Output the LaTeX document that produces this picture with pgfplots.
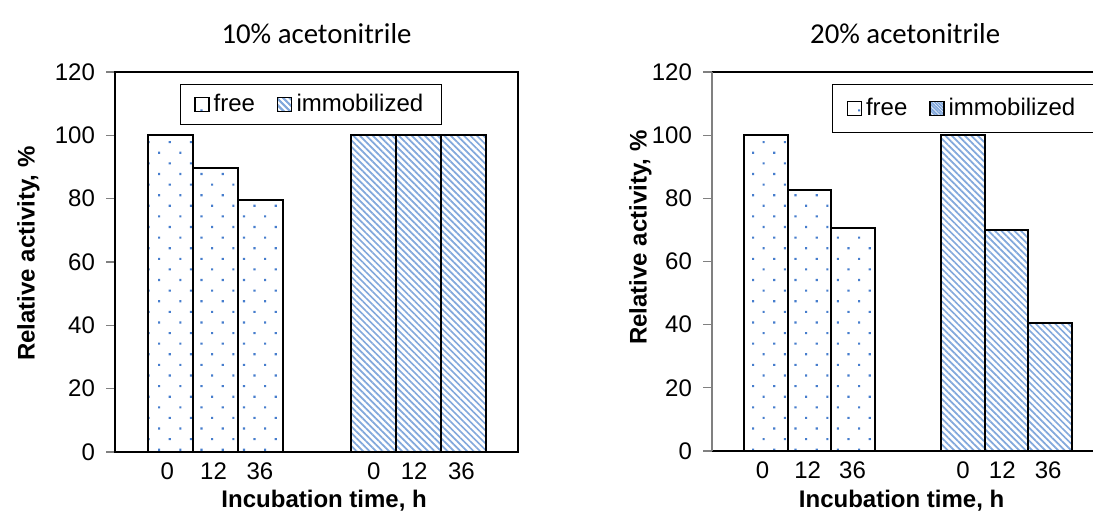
\documentclass[border=0pt]{standalone}
\usepackage{fontspec}
\setmainfont{Liberation Sans}
\newfontfamily\calibri{Carlito}
\usepackage{pgfplots}
\pgfplotsset{compat=1.18}
\usetikzlibrary{patterns.meta}
\definecolor{dotblue}{RGB}{70,125,205}
\definecolor{hatchblue}{RGB}{130,168,220}

\pgfplotsset{
  every axis title/.style={font=\calibri\fontsize{14.4}{17}\selectfont, anchor=center},
  panel/.style={
    scale only axis,
    xmin=0, xmax=8.956, ymin=0, ymax=120,
    ytick={0,20,...,120},
    xtick={1.16,2.19,3.22,5.75,6.65,7.70},
    xticklabels={0,12,36,0,12,36},
    xtick style={draw=none},
    ytick pos=left,
    ytick align=outside,
    major tick length=4.5pt,
    ytick style={line width=0.6pt},
    axis line style={line width=0.6pt},
    tick label style={font=\fontsize{12}{14}\selectfont},
    xticklabel style={yshift=2.5pt},
    yticklabel style={xshift=-2pt},
    /pgf/number format/assume math mode=true,
    ybar, bar width=1, bar shift=0pt,
    xlabel={Incubation time, h},
    ylabel={Relative activity, \%},
    label style={font=\bfseries\fontsize{12}{14}\selectfont},
    legend columns=2,
    legend style={draw=black, line width=0.6pt, font=\fontsize{12}{14}\selectfont,
      anchor=center, inner xsep=7pt, inner ysep=3pt,
      /tikz/every even column/.append style={column sep=9pt}},
    legend cell align=left,
  },
  freebar/.style={draw=black, line width=1pt, fill=white,
    postaction={pattern={Dots[distance=7.5pt, angle=45, radius=0.75pt]}, pattern color=dotblue},
    legend image code/.code={\draw[black, line width=0.6pt, fill=white] (0pt,-3.5pt) rectangle (7pt,3.5pt);}},
  immbar/.style={draw=black, line width=1pt, fill=white,
    postaction={pattern={Lines[angle=-45, distance=2.3pt, line width=0.85pt]}, pattern color=hatchblue},
    legend image code/.code={\draw[black, line width=0.6pt, pattern={Lines[angle=-45, distance=2.2pt, line width=0.8pt]}, pattern color=hatchblue] (0pt,-3.5pt) rectangle (7pt,3.5pt);}},
}

\begin{document}
\begin{tikzpicture}
\useasboundingbox (0,0) rectangle (546.5pt,262pt);
\clip (0,0) rectangle (546.5pt,262pt);

\begin{axis}[panel,
  at={(57.5pt,36pt)}, anchor=south west,
  width=201.5pt, height=190pt,
  title={10\% acetonitrile},
  title style={at={(axis description cs:0.50,1.10)}},
  xlabel style={at={(axis description cs:0.519,-0.127)}, anchor=center},
  ylabel style={at={(axis description cs:-0.215,0.522)}, anchor=center},
  legend style={at={(axis description cs:0.486,0.914)}},
]
\addplot[freebar] coordinates {(1.233,100) (2.233,89.7) (3.233,79.5)};
\addlegendentry{free}
\addplot[immbar] coordinates {(5.744,100) (6.744,100) (7.744,100)};
\addlegendentry{immobilized}
\end{axis}

\begin{axis}[panel,
  at={(356pt,36.5pt)}, anchor=south west,
  width=195.5pt, height=189.5pt,
  separate axis lines,
  y axis line style={gray},
  ytick style={gray},
  title={20\% acetonitrile},
  title style={at={(axis description cs:0.494,1.10)}},
  xlabel style={at={(axis description cs:0.485,-0.13)}, anchor=center},
  ylabel style={at={(axis description cs:-0.183,0.563)}, anchor=center},
  legend style={at={(axis description cs:0.642,0.904)}, inner ysep=5pt},
]
\addplot[freebar] coordinates {(1.233,100) (2.233,82.5) (3.233,70.6)};
\addlegendentry{free}
\addplot[immbar] coordinates {(5.744,100) (6.744,70.0) (7.744,40.4)};
\addlegendentry{immobilized}
\end{axis}
\end{tikzpicture}
\end{document}
